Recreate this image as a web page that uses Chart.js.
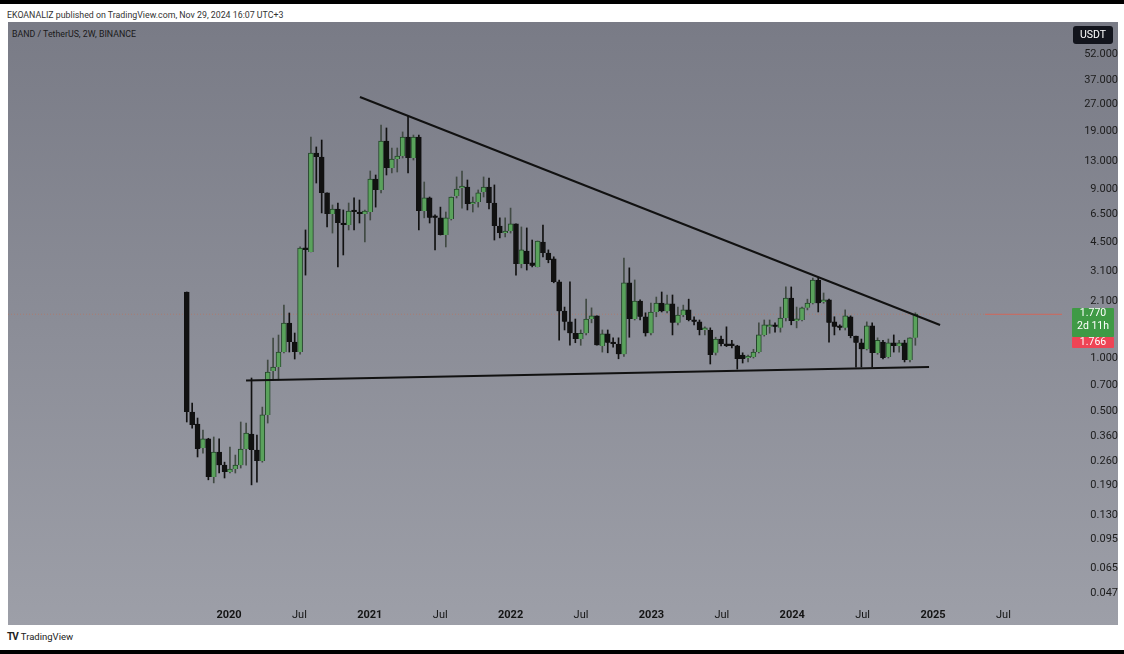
<!DOCTYPE html>
<html>
<head>
<meta charset="utf-8">
<script src="https://cdn.jsdelivr.net/npm/chart.js@4.4.1/dist/chart.umd.min.js"></script>
<style>
html, body { margin: 0; padding: 0; background: #fff; width: 1124px; height: 654px; overflow: hidden; font-family: Roboto, "Liberation Sans", Arial, sans-serif; }
#topbar { position: absolute; left: 0; top: 0; width: 1124px; height: 4px; background: #000; }
#botbar { position: absolute; left: 0; top: 650px; width: 1124px; height: 4px; background: #000; }
#pub { position: absolute; left: 7px; top: 10px; font-size: 8.8px; color: #333; }
#panel { position: absolute; left: 8px; top: 22px; width: 1110px; height: 603px; background: linear-gradient(#797b86, #9d9fa8); }
#sym { position: absolute; left: 12px; top: 29px; font-size: 8.8px; color: #1a1a1a; }
#wrap { position: absolute; left: 8px; top: 22px; width: 1110px; height: 603px; }
#logo { position: absolute; left: 7px; top: 631px; font-size: 9.5px; color: #222; }
#logo b { font-size: 10px; letter-spacing: -1px; margin-right: 3px; }
</style>
</head>
<body>
<div id="topbar"></div>
<div id="pub">EKOANALIZ published on TradingView.com, Nov 29, 2024 16:07 UTC+3</div>
<div id="panel"></div>
<div id="sym">BAND / TetherUS, 2W, BINANCE</div>
<div id="wrap"><canvas id="chart" width="1110" height="603"></canvas></div>
<div id="logo"><b>TV</b>TradingView</div>
<div id="botbar"></div>
<script>
// 2W candles, first one mid Sep 2019
const firstCandle = 2019.70;
const candleStep = 14 / 365.25;

const opens = [2.36,0.495,0.424,0.310,0.349,0.213,0.294,0.248,0.227,0.236,0.248,0.306,0.372,0.302,0.262,0.477,0.844,0.889,1.081,1.576,
  1.231,1.081,4.18,3.97,14.40,13.66,8.56,6.51,6.95,5.72,5.64,6.77,6.68,6.51,6.68,10.26,8.90,16.82,11.84,13.31,
  13.84,17.72,13.49,17.72,6.77,8.02,6.27,6.19,4.95,6.10,8.23,9.13,9.25,7.41,7.61,8.67,9.25,7.51,5.57,5.08,
  5.22,5.72,3.40,4.02,3.45,3.27,4.52,3.92,3.63,2.69,1.84,1.60,1.38,1.28,1.38,1.66,1.73,1.17,1.37,1.22,
  1.20,1.05,2.66,1.66,2.10,1.71,1.38,1.82,2.04,1.84,2.02,1.58,1.75,1.87,1.64,1.60,1.44,1.44,1.07,1.28,
  1.20,1.18,1.17,1.04,1.00,1.013,1.081,1.35,1.50,1.54,1.48,1.68,2.18,1.62,1.64,1.92,2.04,2.76,2.07,2.13,
  1.60,1.52,1.48,1.71,1.33,1.22,1.12,1.52,1.067,1.23,1.013,1.22,1.17,1.22,0.974,1.30];
const highs = [2.36,0.557,0.458,0.392,0.352,0.358,0.349,0.258,0.314,0.283,0.435,0.429,0.771,0.367,0.528,0.974,1.297,1.348,1.992,1.796,
  1.384,4.24,5.29,17.72,15.57,17.04,8.56,7.32,7.51,6.86,7.51,8.02,7.81,6.86,11.39,10.81,20.72,19.93,15.36,15.36,
  18.93,23.27,18.18,18.18,9.87,8.12,6.43,7.12,6.68,8.12,10.54,11.39,10.13,8.12,8.90,10.54,10.40,9.50,6.19,6.19,
  7.03,5.72,5.50,5.43,4.64,4.58,5.64,4.08,3.73,2.76,1.94,2.69,1.66,1.44,2.15,1.92,1.73,1.44,1.44,1.30,
  1.30,3.67,3.23,2.76,2.13,1.80,2.04,2.21,2.36,2.27,2.27,1.94,1.99,2.15,1.71,1.64,1.50,1.48,1.31,1.33,
  1.50,1.26,1.18,1.07,1.04,1.12,1.58,1.64,1.64,1.58,1.94,2.52,2.52,1.94,1.94,2.15,2.83,2.83,2.33,2.15,
  1.71,1.54,1.87,1.73,1.33,1.28,1.60,1.58,1.30,1.26,1.28,1.35,1.26,1.26,1.30,1.80];
const lows = [0.435,0.402,0.276,0.290,0.205,0.197,0.224,0.210,0.224,0.224,0.239,0.248,0.192,0.199,0.258,0.429,0.751,0.751,1.067,1.081,
  0.987,1.05,2.94,3.97,9.74,6.60,5.50,5.08,3.27,3.82,5.29,5.29,5.79,4.52,6.02,7.12,8.56,10.81,11.09,11.24,
  13.49,11.09,13.14,5.29,6.19,5.79,4.08,4.95,4.24,6.02,8.02,7.03,6.86,6.68,7.12,8.12,6.95,4.64,4.77,4.83,
  5.08,2.94,3.23,3.14,3.27,3.27,3.73,3.45,2.66,1.26,1.44,1.18,1.22,1.18,1.35,1.58,1.18,1.08,1.07,1.15,
  0.99,1.02,1.31,1.64,1.64,1.33,1.35,1.71,1.82,1.80,1.35,1.54,1.71,1.62,1.54,1.35,1.35,0.925,1.04,1.17,
  1.16,1.14,0.866,0.937,0.950,1.00,1.067,1.33,1.38,1.40,1.40,1.62,1.54,1.48,1.62,1.87,2.02,1.82,2.04,1.23,
  1.35,1.44,1.44,1.30,0.889,0.889,1.11,0.889,1.05,0.987,1.00,1.08,1.08,0.950,0.950,1.18];
const closes = [0.495,0.418,0.306,0.349,0.213,0.294,0.248,0.227,0.236,0.248,0.306,0.377,0.302,0.262,0.477,0.833,0.889,1.081,1.576,1.231,
  1.081,4.18,4.08,14.40,13.66,8.56,6.51,6.95,5.79,5.64,6.77,6.68,6.51,6.77,10.26,8.90,16.82,11.84,13.31,13.84,
  17.72,13.49,17.72,6.77,8.02,6.19,6.19,4.95,6.19,8.12,9.01,9.25,7.41,7.61,8.56,9.25,7.51,5.57,5.08,5.22,
  5.72,3.40,4.08,3.40,3.32,4.58,3.92,3.58,2.69,1.84,1.60,1.38,1.28,1.38,1.66,1.73,1.18,1.37,1.22,1.20,
  1.05,2.66,1.66,2.10,1.71,1.38,1.82,2.04,1.84,2.02,1.58,1.75,1.87,1.64,1.60,1.44,1.48,1.04,1.28,1.20,
  1.17,1.17,0.987,0.987,1.013,1.081,1.35,1.54,1.54,1.50,1.68,2.18,1.62,1.66,1.92,2.04,2.76,2.04,2.13,1.58,
  1.50,1.48,1.73,1.33,1.22,1.12,1.52,1.067,1.26,1.00,1.22,1.17,1.22,0.974,1.30,1.77];

// trend lines drawn on the chart (x in years, y in USDT)
const resistance = [{ x: 2020.930, y: 29.8 }, { x: 2025.050, y: 1.536 }];
const support = [{ x: 2020.121, y: 0.746 }, { x: 2024.972, y: 0.889 }];

const lastPrice = 1.770;
const bidPrice = 1.766;
const countdown = '2d 11h';

const yTicks = [52, 37, 27, 19, 13, 9, 6.5, 4.5, 3.1, 2.1, 1, 0.7, 0.5, 0.36, 0.26, 0.19, 0.13, 0.095, 0.065, 0.047];
const xTicks = [2020, 2020.5, 2021, 2021.5, 2022, 2022.5, 2023, 2023.5, 2024, 2024.5, 2025, 2025.5];

const xMin = 2018.4304, xMax = 2025.916;
const yMin = 0.0413, yMax = 79.1;

const xOf = i => firstCandle + i * candleStep;
const up = opens.map((o, i) => closes[i] >= o);
const wickData = opens.map((o, i) => ({ x: xOf(i), y: [lows[i], highs[i]] }));
const bodyData = opens.map((o, i) => ({ x: xOf(i), y: [Math.min(o, closes[i]), Math.max(o, closes[i])] }));

function box(ctx, x, y, w, h, r, color) {
    ctx.beginPath();
    ctx.roundRect(x, y, w, h, r);
    ctx.fillStyle = color;
    ctx.fill();
}

// axis badges: currency box + last price labels
const priceLabels = {
    id: 'priceLabels',
    afterDraw(chart) {
        const ctx = chart.ctx;
        const yl = Math.round(chart.scales.y.getPixelForValue(lastPrice));
        ctx.save();
        ctx.textAlign = 'center';
        ctx.textBaseline = 'middle';
        box(ctx, 1065, 4, 40, 18, 3, '#12141c');
        ctx.fillStyle = '#fff';
        ctx.font = '10.5px Roboto';
        ctx.fillText('USDT', 1085, 13.5);

        box(ctx, 1064, yl - 6, 42, 29, 1, '#3f9a45');
        ctx.fillStyle = '#fff';
        ctx.font = '10.5px Roboto';
        ctx.fillText(lastPrice.toFixed(3), 1085, yl - 0.5);
        ctx.fillText(countdown, 1085, yl + 12);

        box(ctx, 1064, yl + 23, 42, 11, 1, '#ee4455');
        ctx.fillStyle = '#fff';
        ctx.fillText(bidPrice.toFixed(3), 1085, yl + 28.5);
        ctx.restore();
    }
};

new Chart(document.getElementById('chart'), {
    type: 'bar',
    data: {
        datasets: [
            {
                data: wickData, barThickness: 1, grouped: false, order: 3, minBarLength: 1,
                backgroundColor: up.map(u => u ? '#414a43' : '#111111'), borderWidth: 0
            },
            {
                data: bodyData, barThickness: 5, grouped: false, order: 2, minBarLength: 2,
                backgroundColor: up.map(u => u ? '#5aa25c' : '#111111'),
                borderColor: up.map(u => u ? '#24452a' : '#111111'), borderWidth: 1
            },
            {
                type: 'line', data: resistance, borderColor: '#111', borderWidth: 2,
                pointRadius: 0, order: 1
            },
            {
                type: 'line', data: support, borderColor: '#111', borderWidth: 2,
                pointRadius: 0, order: 1
            },
            {
                type: 'line', data: [{ x: xMin, y: bidPrice }, { x: 2025.369, y: bidPrice }],
                borderColor: 'rgba(200, 110, 80, 0.5)', borderWidth: 1, borderDash: [1, 2],
                pointRadius: 0, order: 4
            },
            {
                type: 'line', data: [{ x: 2025.369, y: bidPrice }, { x: xMax, y: bidPrice }],
                borderColor: 'rgba(225, 95, 75, 0.8)', borderWidth: 1,
                pointRadius: 0, order: 4
            }
        ]
    },
    options: {
        responsive: false,
        animation: false,
        events: [],
        layout: { padding: 0, autoPadding: false },
        plugins: { legend: { display: false }, tooltip: { enabled: false } },
        scales: {
            x: {
                type: 'linear', min: xMin, max: xMax, offset: false,
                grid: { display: false, drawTicks: false }, border: { display: false },
                afterBuildTicks: s => { s.ticks = xTicks.map(v => ({ value: v })); },
                afterFit: s => { s.height = 22; s.paddingLeft = 0; s.paddingRight = 0; },
                ticks: {
                    autoSkip: false, maxRotation: 0, padding: 6, color: '#141414',
                    font: c => ({ family: 'Roboto', size: 11, weight: (c.tick && Number.isInteger(c.tick.value)) ? 'bold' : 'normal' }),
                    callback: v => Number.isInteger(v) ? String(v) : 'Jul'
                }
            },
            y: {
                type: 'logarithmic', position: 'right', min: yMin, max: yMax,
                grid: { display: false, drawTicks: false }, border: { display: false },
                afterBuildTicks: s => { s.ticks = yTicks.map(v => ({ value: v })); },
                afterFit: s => { s.width = 56; s.paddingTop = 0; s.paddingBottom = 0; },
                ticks: {
                    autoSkip: false, crossAlign: 'far', padding: 12, color: '#1c1c1c',
                    font: { family: 'Roboto', size: 11 },
                    callback: v => Number(v).toFixed(3)
                }
            }
        }
    },
    plugins: [priceLabels]
});
</script>
</body>
</html>
